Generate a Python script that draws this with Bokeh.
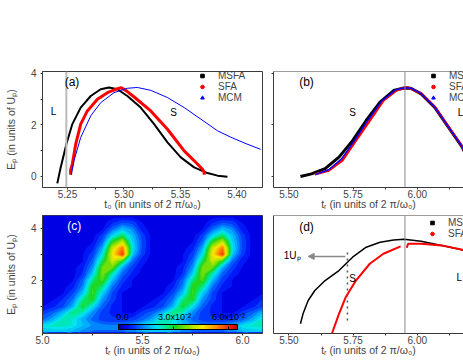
import numpy as np
from bokeh.plotting import figure
from bokeh.layouts import column, row
from bokeh.models import (Range1d, FixedTicker, PrintfTickFormatter, Legend, LegendItem, Span,
                          Label, Arrow, NormalHead, ColorBar, LinearColorMapper, CustomJSTickFormatter)
from bokeh.embed import file_html
from bokeh.resources import INLINE

FONT = "Liberation Sans"
FRAME = "#3a3a3a"

# ---------------- panel (a): E_p versus t0 ----------------
a_msfa_t = [5.241, 5.244, 5.249, 5.2543, 5.2617, 5.2706, 5.2794, 5.2868, 5.2942, 5.303,
            5.3148, 5.3267, 5.3385, 5.3503, 5.3621, 5.3739, 5.3828, 5.3916]
a_msfa_e = [-0.27, 0.35, 1.25, 2.03, 2.67, 3.12, 3.38, 3.45, 3.38, 3.12,
            2.67, 2.03, 1.32, 0.74, 0.35, 0.13, 0.03, -0.01]
a_sfa_t = [5.2528, 5.2528, 5.2543, 5.2573, 5.2617, 5.2676, 5.2765, 5.2853, 5.2927, 5.2977,
           5.303, 5.309, 5.3237, 5.3385, 5.3533, 5.365, 5.3695, 5.371, 5.371]
a_sfa_e = [0.06, 0.25, 0.48, 1.25, 2.03, 2.54, 2.99, 3.25, 3.38, 3.44,
           3.29, 3.08, 2.54, 1.83, 0.99, 0.48, 0.28, 0.15, 0.06]
a_mcm_t = [5.2534, 5.2558, 5.2617, 5.2706, 5.2794, 5.2912, 5.303, 5.3119, 5.3237, 5.3385,
           5.3533, 5.3681, 5.3828, 5.3946, 5.408, 5.421]
a_mcm_e = [0.06, 0.61, 1.51, 2.35, 2.86, 3.25, 3.42, 3.45, 3.34, 3.06,
           2.67, 2.22, 1.77, 1.52, 1.27, 1.05]

# ---------------- panel (b): E_p versus tr ----------------
b_msfa_t = [5.545, 5.588, 5.641, 5.695, 5.748, 5.801, 5.855, 5.908, 5.948, 5.975,
            6.015, 6.068, 6.121, 6.175, 6.2]
b_msfa_e = [0.0, 0.10, 0.30, 0.75, 1.39, 2.17, 2.88, 3.33, 3.43, 3.42,
            3.20, 2.68, 1.91, 1.14, 0.62]
b_sfa_t = [5.601, 5.655, 5.708, 5.761, 5.815, 5.868, 5.921, 5.961, 6.015, 6.068, 6.121, 6.175, 6.2]
b_sfa_e = [0.08, 0.23, 0.62, 1.39, 2.17, 2.94, 3.35, 3.46, 3.22, 2.70, 1.93, 1.16, 0.64]
b_mcm_t = [5.605, 5.655, 5.705, 5.756, 5.809, 5.862, 5.916, 5.952, 5.975, 6.015, 6.068, 6.121, 6.175, 6.2]
b_mcm_e = [0.08, 0.26, 0.68, 1.40, 2.20, 2.93, 3.36, 3.44, 3.42, 3.21, 2.69, 1.92, 1.15, 0.63]

# ---------------- panel (c): yield map (units of 1e-2) ----------------
c_tr = [5.00, 5.05, 5.10, 5.15, 5.20, 5.25, 5.30, 5.35, 5.40, 5.45, 5.50, 5.55,
        5.60, 5.65, 5.70, 5.75, 5.80, 5.85, 5.90, 5.95, 6.00, 6.05, 6.10]
c_ep = [0.0, 0.25, 0.5, 0.75, 1.0, 1.25, 1.5, 1.75, 2.0, 2.25, 2.5, 2.75,
        3.0, 3.25, 3.5, 3.75, 4.0, 4.25, 4.5]
c_yield = [
    [1.7,1.8,1.8,1.7,1.4,1.2,1.2,1.2,1.2,1.3, 1.7,1.8,1.8,1.7,1.4,1.2,1.2,1.2,1.2,1.3, 1.7,1.8,1.8],
    [2.2,2.4,2.4,2.2,1.8,1.5,1.4,1.4,1.4,1.7, 2.2,2.4,2.4,2.2,1.8,1.5,1.4,1.4,1.4,1.7, 2.2,2.4,2.4],
    [1.2,1.7,2.4,2.3,1.7,1.2,0.9,0.8,0.8,0.9, 1.2,1.7,2.4,2.3,1.7,1.2,0.9,0.8,0.8,0.9, 1.2,1.7,2.4],
    [0.9,1.2,1.8,2.8,2.4,1.5,0.9,0.7,0.5,0.5, 0.9,1.2,1.8,2.8,2.4,1.5,0.9,0.7,0.5,0.5, 0.9,1.2,1.8],
    [0.5,0.7,1.0,1.7,3.2,2.2,1.2,0.7,0.5,0.4, 0.5,0.7,1.0,1.7,3.2,2.2,1.2,0.7,0.5,0.4, 0.5,0.7,1.0],
    [0.4,0.5,0.8,1.3,2.7,3.2,1.5,0.9,0.5,0.4, 0.4,0.5,0.8,1.3,2.7,3.2,1.5,0.9,0.5,0.4, 0.4,0.5,0.8],
    [0.4,0.4,0.5,1.0,1.9,3.4,2.0,1.0,0.5,0.4, 0.4,0.4,0.5,1.0,1.9,3.4,2.0,1.0,0.5,0.4, 0.4,0.4,0.5],
    [0.4,0.4,0.4,0.7,1.4,3.3,2.7,1.3,0.7,0.5, 0.4,0.4,0.4,0.7,1.4,3.3,2.7,1.3,0.7,0.5, 0.4,0.4,0.4],
    [0.4,0.4,0.4,0.5,1.2,2.7,3.5,1.8,0.9,0.5, 0.4,0.4,0.4,0.5,1.2,2.7,3.5,1.8,0.9,0.5, 0.4,0.4,0.4],
    [0.4,0.4,0.4,0.4,0.8,2.0,3.8,2.5,1.2,0.7, 0.4,0.4,0.4,0.4,0.8,2.0,3.8,2.5,1.2,0.7, 0.4,0.4,0.4],
    [0.4,0.4,0.4,0.4,0.7,1.5,3.7,3.7,1.7,0.9, 0.5,0.4,0.4,0.4,0.7,1.5,3.7,3.7,1.7,0.9, 0.5,0.4,0.4],
    [0.4,0.4,0.4,0.4,0.5,1.2,2.9,4.4,3.2,1.3, 0.6,0.4,0.4,0.4,0.5,1.2,2.9,4.4,3.2,1.3, 0.6,0.4,0.4],
    [0.4,0.4,0.4,0.4,0.5,0.9,2.2,4.7,6.1,1.9, 0.9,0.4,0.4,0.4,0.5,0.9,2.2,4.7,6.1,1.9, 0.9,0.4,0.4],
    [0.4,0.4,0.4,0.4,0.4,0.7,1.7,4.3,5.6,2.2, 1.0,0.4,0.4,0.4,0.4,0.7,1.7,4.3,5.6,2.2, 1.0,0.4,0.4],
    [0.4,0.4,0.4,0.4,0.4,0.5,1.2,3.2,4.2,2.0, 1.0,0.4,0.4,0.4,0.4,0.5,1.2,3.2,4.2,2.0, 1.0,0.4,0.4],
    [0.4,0.4,0.4,0.4,0.4,0.4,0.9,2.0,2.8,1.8, 0.9,0.4,0.4,0.4,0.4,0.4,0.9,2.0,2.8,1.8, 0.9,0.4,0.4],
    [0.4,0.4,0.4,0.4,0.4,0.4,0.5,1.2,1.8,1.4, 0.6,0.4,0.4,0.4,0.4,0.4,0.5,1.2,1.8,1.4, 0.6,0.4,0.4],
    [0.4,0.4,0.4,0.4,0.4,0.4,0.4,0.7,1.0,0.9, 0.5,0.4,0.4,0.4,0.4,0.4,0.4,0.7,1.0,0.9, 0.5,0.4,0.4],
    [0.4]*23,
]
cbar_ticks = [0.0, 3.0, 6.0]
cbar_labels = ["0.0", "3.0x10\u207b\u00b2", "6.0x10\u207b\u00b2"]

# ---------------- panel (d) ----------------
d_msfa_t = [5.545, 5.555, 5.575, 5.601, 5.641, 5.695, 5.748, 5.801, 5.855, 5.908, 5.948,
            6.015, 6.095, 6.2]
d_msfa_y = [0.37, 0.75, 1.26, 1.64, 2.02, 2.40, 2.91, 3.29, 3.48, 3.57, 3.59, 3.52, 3.36, 3.14]
d_sfa_short_t = [5.668, 5.695, 5.721, 5.761, 5.815, 5.868, 5.935]
d_sfa_short_y = [0.01, 0.75, 1.38, 2.02, 2.66, 3.04, 3.32]
d_sfa_long_t = [5.959, 5.964, 6.015, 6.095, 6.175, 6.2]
d_sfa_long_y = [3.27, 3.42, 3.42, 3.36, 3.19, 3.10]

# ---------------- colours ----------------
anchor_v = [0.0, 0.45, 1.1, 1.6, 2.1, 2.6, 3.1, 3.9, 4.6, 5.5, 6.2, 6.5]
anchor_rgb = [(0, 0, 150), (0, 0, 245), (0, 90, 255), (0, 170, 255), (0, 230, 240), (0, 235, 140),
              (30, 215, 30), (160, 230, 0), (250, 235, 0), (255, 120, 0), (240, 20, 0), (200, 0, 0)]


def cmap(v):
    r = np.interp(v, anchor_v, [c[0] for c in anchor_rgb])
    g = np.interp(v, anchor_v, [c[1] for c in anchor_rgb])
    b = np.interp(v, anchor_v, [c[2] for c in anchor_rgb])
    return "#%02x%02x%02x" % (int(r), int(g), int(b))


BLANK = CustomJSTickFormatter(code="return ''")


def make_fig(xr, yr, w, h, left, right, top, bottom):
    p = figure(width=w, height=h, min_border_left=left, min_border_right=right,
               min_border_top=top, min_border_bottom=bottom, x_range=Range1d(*xr),
               y_range=Range1d(*yr), output_backend="svg", toolbar_location=None)
    p.grid.visible = False
    p.outline_line_color = FRAME
    return p


def style_axis(ax, ticks, minor, fmt, label, show_labels=True):
    ax.ticker = FixedTicker(ticks=ticks, minor_ticks=minor)
    ax.formatter = PrintfTickFormatter(format=fmt)
    ax.axis_label = label
    ax.axis_label_text_font = FONT
    ax.axis_label_text_font_size = "10.5px"
    ax.axis_label_text_font_style = "normal"
    ax.axis_label_standoff = -3
    ax.major_label_text_font = FONT
    ax.major_label_text_font_size = "10px"
    ax.major_label_standoff = 0
    ax.axis_line_color = FRAME
    ax.major_tick_line_color = FRAME
    ax.minor_tick_line_color = FRAME
    ax.major_tick_out = 2
    ax.major_tick_in = 0
    ax.minor_tick_out = 2
    ax.minor_tick_in = 0
    if not show_labels:
        ax.formatter = BLANK


def style_yaxis(ax):
    ax.major_label_standoff = 4
    ax.axis_label_standoff = 11


def add_legend(p, entries, loc):
    items = []
    for lab, marker, col in entries:
        r = p.scatter(x=np.array([np.nan]), y=np.array([np.nan]), marker=marker, size=4, color=col)
        items.append(LegendItem(label=lab, renderers=[r]))
    leg = Legend(items=items, location=loc, padding=0, margin=0, spacing=0,
                 glyph_width=10, glyph_height=9, label_height=9, label_standoff=11,
                 label_text_font=FONT, label_text_font_size="10px",
                 border_line_color=None, background_fill_alpha=0)
    p.add_layout(leg)


def add_text(p, x, y, text, size="10px", color="black", align="left"):
    p.add_layout(Label(x=x, y=y, text=text, text_font=FONT, text_font_size=size,
                       text_color=color, text_align=align, text_baseline="middle"))


LEG3 = [("MSFA", "square", "black"), ("SFA", "circle", "red"), ("MCM", "triangle", "blue")]
EP_LABEL = "E\u209a (in units of U\u209a)"
TR_LABEL = "t\u1d63 (in units of 2 \u03c0/\u03c9\u2080)"

# ---------- (a) ----------
pa = make_fig((5.2279, 5.4226), (-0.43, 4.07), 266, 212, 42, 4, 71, 25)
pa.add_layout(Span(location=5.249, dimension="height", line_color="#bbbbbb", line_width=2))
pa.line(a_msfa_t, a_msfa_e, line_color="black", line_width=2)
pa.line(a_sfa_t, a_sfa_e, line_color="red", line_width=3)
pa.line(a_mcm_t, a_mcm_e, line_color="blue", line_width=1)
style_axis(pa.xaxis[0], [5.25, 5.30, 5.35, 5.40], [5.275, 5.325, 5.375], "%.2f",
           "t\u2080 (in units of 2 \u03c0/\u03c9\u2080)")
style_axis(pa.yaxis[0], [0, 2, 4], [1, 3], "%d", EP_LABEL)
style_yaxis(pa.yaxis[0])
add_legend(pa, LEG3, (155, 84))
add_text(pa, 5.2475, 3.68, "(a)", "12px")
add_text(pa, 5.2376, 2.52, "L", "10px", align="center")
add_text(pa, 5.3438, 2.48, "S", "10px", align="center")

# ---------- (b) ----------
pb = make_fig((5.44, 6.18), (-0.43, 4.07), 197, 212, 7, 0, 71, 25)
pb.outline_line_color = None
pb.add_layout(Span(location=4.07, dimension="width", line_color=FRAME, line_width=1))
pb.add_layout(Span(location=5.952, dimension="height", line_color="#888888", line_width=1))
pb.line(b_msfa_t, b_msfa_e, line_color="black", line_width=3)
pb.line(b_sfa_t, b_sfa_e, line_color="red", line_width=2.5)
pb.line(b_mcm_t, b_mcm_e, line_color="blue", line_width=1.5)
style_axis(pb.xaxis[0], [5.50, 5.75, 6.00], [5.625, 5.875, 6.125], "%.2f", TR_LABEL)
style_axis(pb.yaxis[0], [0, 2, 4], [], "%d", None, show_labels=False)
add_legend(pb, LEG3, (155, 84))
add_text(pb, 5.54, 3.68, "(b)", "12px")
add_text(pb, 5.748, 2.48, "S", "10px", align="center")
add_text(pb, 6.168, 2.48, "L", "10px", align="center")

# ---------- (c) ----------
pc = make_fig((5.0, 6.1), (-0.05, 4.5), 266, 148, 42, 4, 3, 27)
pc.background_fill_color = "#0000ea"
levels = list(np.arange(0.0, 6.75, 0.25))
fills = [cmap(0.5 * (levels[i] + levels[i + 1])) for i in range(len(levels) - 1)]
edge_cols = [fills[0]] + fills
pc.contour(x=c_tr, y=c_ep, z=np.array(c_yield), levels=levels, fill_color=fills,
           line_color=edge_cols, line_width=1.2)
style_axis(pc.xaxis[0], [5.0, 5.5, 6.0], [5.25, 5.75], "%.1f", TR_LABEL)
style_axis(pc.yaxis[0], [2, 4], [1, 3], "%d", EP_LABEL)
style_yaxis(pc.yaxis[0])
bar_colors = [cmap(v) for v in np.linspace(0, 6.5, 128)]
mapper = LinearColorMapper(palette=bar_colors, low=0, high=6.5)
cb = ColorBar(color_mapper=mapper, orientation="horizontal", location=(76, 4), width=119, height=5,
              padding=0, margin=0, bar_line_color="black", formatter=BLANK,
              major_label_text_font_size="9px", label_standoff=0,
              major_tick_line_color="black", major_tick_in=3, major_tick_out=0,
              minor_tick_line_color=None, ticker=FixedTicker(ticks=cbar_ticks),
              background_fill_alpha=0, border_line_color=None)
pc.add_layout(cb)
for tl, tx in zip(cbar_labels, [5.40, 5.66, 5.93]):
    add_text(pc, tx, 0.60, tl, "9px", align="center")
add_text(pc, 5.124, 4.09, "(c)", "12px", color="white")

# ---------- (d) ----------
pd_ = make_fig((5.44, 6.18), (0.0, 4.5), 197, 148, 7, 0, 3, 27)
pd_.outline_line_color = None
pd_.add_layout(Span(location=4.5, dimension="width", line_color=FRAME, line_width=1))
pd_.add_layout(Span(location=5.952, dimension="height", line_color="#888888", line_width=1))
pd_.line(d_msfa_t, d_msfa_y, line_color="black", line_width=1.5)
pd_.line(d_sfa_short_t, d_sfa_short_y, line_color="red", line_width=2)
pd_.line(d_sfa_long_t, d_sfa_long_y, line_color="red", line_width=2)
style_axis(pd_.xaxis[0], [5.50, 5.75, 6.00], [5.625, 5.875, 6.125], "%.2f", TR_LABEL)
style_axis(pd_.yaxis[0], [], [], "%d", None, show_labels=False)
add_legend(pd_, LEG3[:2], (154, 94))
add_text(pd_, 5.54, 4.08, "(d)", "12px")
add_text(pd_, 5.748, 2.10, "S", "10px", align="center")
add_text(pd_, 6.164, 2.14, "L", "10px", align="center")
add_text(pd_, 5.48, 2.97, "1U\u209a", "10px")
pd_.line([5.728, 5.728], [0.50, 3.24], line_color="#555555", line_width=1.5, line_dash="dotted")
pd_.add_layout(Arrow(x_start=5.72, y_start=2.94, x_end=5.575, y_end=2.94, line_color="#888888",
                     line_width=1.5, end=NormalHead(size=6, fill_color="#888888", line_color="#888888")))

layout = column(row(pa, pb), row(pc, pd_))
open("out.html", "w").write(file_html(layout, INLINE))
